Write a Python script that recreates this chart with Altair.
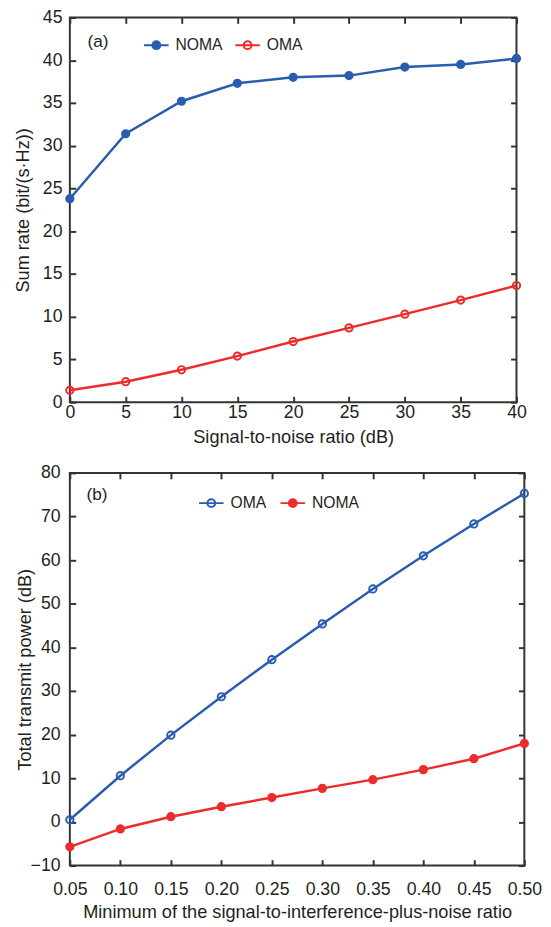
import altair as alt
import pandas as pd

# ---------------- data ----------------
snr_db = [0, 5, 10, 15, 20, 25, 30, 35, 40]
sum_rate_noma = [23.8, 31.4, 35.2, 37.3, 38.0, 38.2, 39.2, 39.5, 40.2]
sum_rate_oma = [1.4, 2.4, 3.8, 5.4, 7.1, 8.7, 10.3, 11.95, 13.65]

sinr_min = [0.05, 0.10, 0.15, 0.20, 0.25, 0.30, 0.35, 0.40, 0.45, 0.50]
power_oma = [0.5, 10.6, 19.9, 28.7, 37.2, 45.4, 53.4, 61.0, 68.3, 75.3]
power_noma = [-5.7, -1.6, 1.2, 3.5, 5.6, 7.7, 9.7, 12.0, 14.5, 18.0]

x_ticks_a = [0, 5, 10, 15, 20, 25, 30, 35, 40]
y_ticks_a = [0, 5, 10, 15, 20, 25, 30, 35, 40, 45]
x_ticks_b = [0.05, 0.10, 0.15, 0.20, 0.25, 0.30, 0.35, 0.40, 0.45, 0.50]
y_ticks_b = [-10, 0, 10, 20, 30, 40, 50, 60, 70, 80]

BLUE = "#2a5db0"
RED = "#ed2b2b"
FRAME = "#333333"
TEXT = "#231f20"
FONT = "Liberation Sans"
SYMBOL = "M-1,0L1,0M-0.32,0A0.32,0.32 0 1 1 0.32,0A0.32,0.32 0 1 1 -0.32,0Z"

df_a = pd.DataFrame({
    "x": snr_db + snr_db,
    "y": sum_rate_noma + sum_rate_oma,
    "series": ["NOMA"] * len(snr_db) + ["OMA"] * len(snr_db),
})
df_b = pd.DataFrame({
    "x": sinr_min + sinr_min,
    "y": power_oma + power_noma,
    "series": ["OMA"] * len(sinr_min) + ["NOMA"] * len(sinr_min),
})
df_a["line"] = df_a["series"]
df_b["line"] = df_b["series"]


def panel(df, xdom, ydom, xt, yt, xfmt, w, h, xtitle, ytitle, ytitle_x,
          tag, order, colors, fills, line_colors, lx, ly, tpad, cpad, tbase,
          xlab_pad, xtitle_pad, ylab_pad):
    xs = alt.Scale(domain=xdom, nice=False, zero=False)
    ys = alt.Scale(domain=ydom, nice=False, zero=False)
    common = dict(offset=-6, tickSize=6, tickWidth=2, tickColor=FRAME,
                  domain=False, grid=False)
    x_bottom = alt.Axis(orient="bottom", values=xt, format=xfmt, title=xtitle,
                        labelPadding=xlab_pad, titlePadding=xtitle_pad,
                        labelFlush=False, labelOverlap=False, **common)
    y_left = alt.Axis(orient="left", values=yt, format="d", title=ytitle,
                      titleX=ytitle_x, titleY=h / 2, titleBaseline="middle",
                      titleAngle=270, titleAlign="center",
                      labelPadding=ylab_pad, labelOverlap=False, **common)
    x_top = alt.Axis(orient="top", values=xt, labels=False, title=None, **common)
    y_right = alt.Axis(orient="right", values=yt, labels=False, title=None, **common)

    lines = alt.Chart(df).mark_line(strokeWidth=2.5).encode(
        x=alt.X("x:Q", scale=xs, axis=x_bottom),
        y=alt.Y("y:Q", scale=ys, axis=y_left),
        stroke=alt.Stroke("line:N", scale=alt.Scale(range=line_colors),
                          legend=None),
    )
    leg = alt.Legend(title=tag, orient="none", legendX=lx, legendY=ly,
                     direction="horizontal", titleOrient="left",
                     titleBaseline=tbase,
                     titlePadding=tpad, symbolType=SYMBOL, symbolSize=625,
                     symbolStrokeWidth=2, labelFontSize=16, titleFontSize=17.5,
                     titleFontWeight="normal", columnPadding=cpad,
                     labelOffset=6, padding=0, labelColor=TEXT, titleColor=TEXT,
                     labelFont=FONT, titleFont=FONT)
    points = alt.Chart(df).mark_point(filled=False, size=55, strokeWidth=2,
                                      opacity=1).encode(
        x=alt.X("x:Q", scale=xs, axis=x_top),
        y=alt.Y("y:Q", scale=ys, axis=y_right),
        color=alt.Color("series:N", scale=alt.Scale(domain=order, range=colors),
                        legend=leg),
        fill=alt.Fill("series:N", scale=alt.Scale(domain=order, range=fills),
                      legend=leg),
    )
    return alt.layer(lines, points).resolve_axis(
        x="independent", y="independent"
    ).properties(width=w, height=h)


top = panel(df_a, [0, 40], [0, 45], x_ticks_a, y_ticks_a, "d", 455, 392,
            "Signal-to-noise ratio (dB)", "Sum rate (bit/(s·Hz))", -54,
            "(a)", ["NOMA", "OMA"], [BLUE, RED], [BLUE, "transparent"],
            [BLUE, RED], 18, 14.5, 34.6, 9, "middle", 1.5, 6.5, 8)

bottom = panel(df_b, [0.05, 0.50], [-10, 80], x_ticks_b, y_ticks_b, ".2f", 463, 400,
               "Minimum of the signal-to-interference-plus-noise ratio",
               "Total transmit power (dB)", -52,
               "(b)", ["OMA", "NOMA"], [BLUE, RED], ["transparent", RED],
               [RED, BLUE], 17, 17, 91.6, 10, "alphabetic", 15, 5, 10)

chart = alt.concat(top, bottom, columns=1, spacing=16).properties(
    padding={"left": 5, "top": -9, "right": 0, "bottom": 0},
).resolve_scale(
    color="independent", fill="independent", stroke="independent",
).resolve_legend(
    color="independent", fill="independent", stroke="independent",
).configure(
    font=FONT,
).configure_view(
    stroke=FRAME, strokeWidth=2,
).configure_axis(
    labelFont=FONT, titleFont=FONT, labelFontSize=18, titleFontSize=18.5,
    labelColor=TEXT, titleColor=TEXT, titleFontWeight="normal",
)

chart.save("out.html", embed_options={"renderer": "svg", "actions": False})
